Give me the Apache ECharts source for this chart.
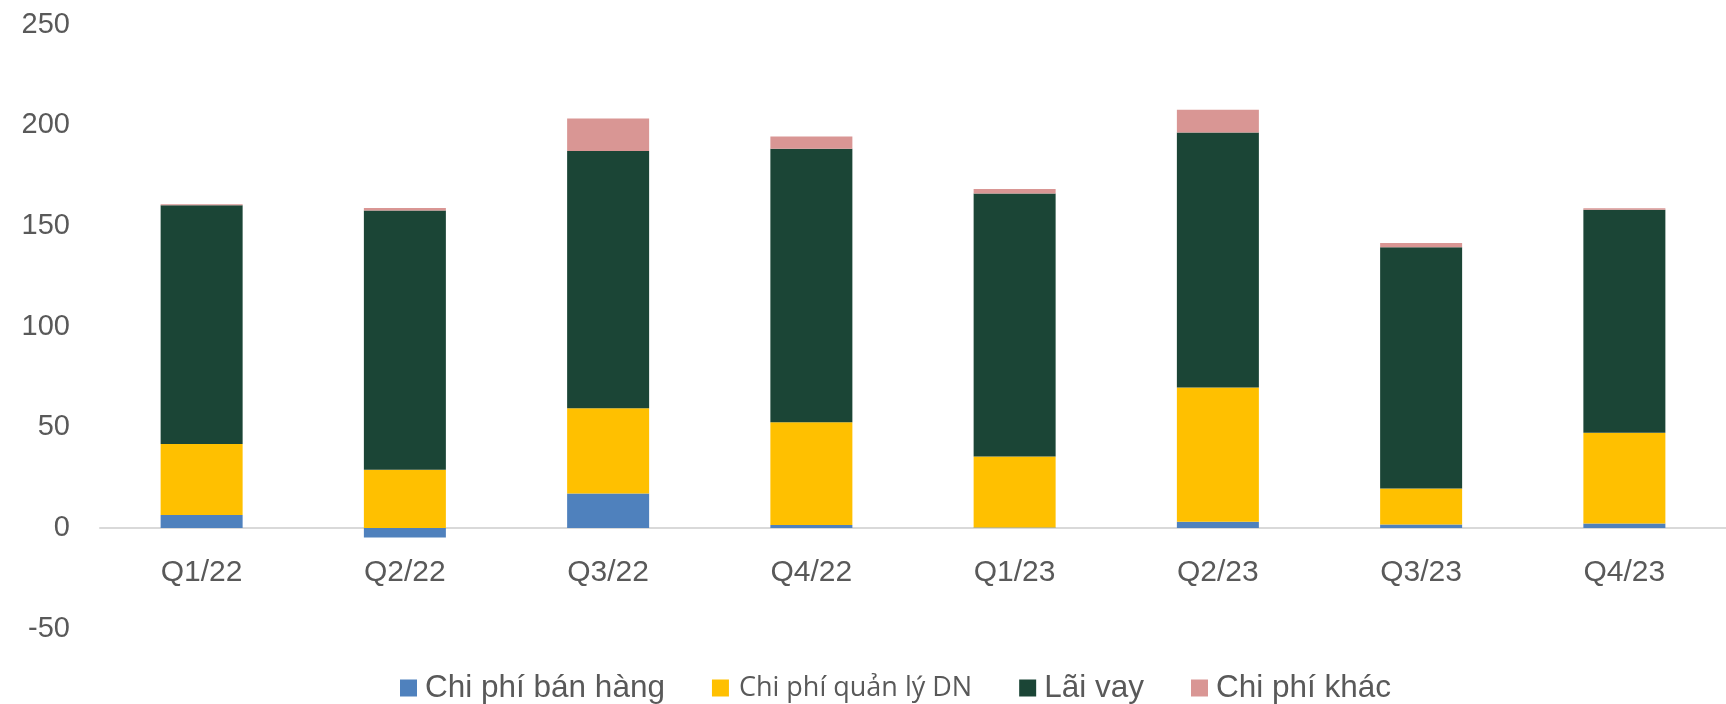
<!DOCTYPE html>
<html>
<head>
<meta charset="utf-8">
<script src="https://cdn.jsdelivr.net/npm/echarts@6/dist/echarts.min.js"></script>
<style>html,body{margin:0;padding:0;background:#fff}#c{width:1726px;height:704px}</style>
</head>
<body>
<div id="c"></div>
<script>
const categories = ['Q1/22','Q2/22','Q3/22','Q4/22','Q1/23','Q2/23','Q3/23','Q4/23'];
const chiPhiBanHang = [6.5, -4.7, 17.2, 1.5, 0.3, 3.1, 1.8, 2.2];
const chiPhiQuanLy = [35.2, 29.0, 42.3, 51.1, 35.2, 66.7, 17.8, 45.1];
const laiVay = [118.6, 128.7, 127.8, 135.8, 130.6, 126.7, 119.8, 110.8];
const chiPhiKhac = [0.5, 1.3, 16.1, 6.1, 2.3, 11.3, 2.2, 0.7];
const seriesNames = ['Chi phí bán hàng','Chi phí quản lý DN','Lãi vay','Chi phí khác'];
const colors = ['#4F81BD','#FFC000','#1B4536','#D99694'];
const FONT = '"Liberation Sans", Arial, sans-serif';
const FONT2 = '"Open Sans", "Noto Sans", sans-serif';

const chart = echarts.init(document.getElementById('c'));
const dataSets = [chiPhiBanHang, chiPhiQuanLy, laiVay, chiPhiKhac];
chart.setOption({
  animation: false,
  color: colors,
  grid: {left: 100, top: 24.7, width: 1645, height: 604, containLabel: false},
  legend: {
    data: seriesNames,
    left: 395,
    top: 667,
    itemWidth: 17,
    itemHeight: 17,
    itemGap: 47,
    icon: 'rect',
    formatter: function (name) {
      return name === 'Chi phí quản lý DN' ? '{s|' + name + '}' : '{n|' + name + '}';
    },
    textStyle: {
      fontFamily: FONT,
      color: '#595959',
      rich: {
        n: {fontSize: 31.5, fontFamily: FONT, color: '#595959', padding: [0, 0, 0, 3]},
        s: {fontSize: 27, fontFamily: FONT2, color: '#595959', padding: [0, 0, 0, 5]}
      }
    }
  },
  xAxis: {
    type: 'category',
    data: categories,
    axisLine: {onZero: true, lineStyle: {color: '#D9D9D9', width: 2}},
    axisTick: {show: false},
    axisLabel: {fontSize: 30, fontFamily: FONT, color: '#595959', margin: -71}
  },
  yAxis: {
    type: 'value',
    min: -50,
    max: 250,
    interval: 50,
    splitLine: {show: false},
    axisLine: {show: false},
    axisTick: {show: false},
    axisLabel: {fontSize: 29, fontFamily: FONT, color: '#595959', margin: 30}
  },
  series: seriesNames.map((n, i) => ({
    name: n,
    type: 'bar',
    stack: 'total',
    barWidth: 82,
    data: dataSets[i],
    itemStyle: {color: colors[i]}
  }))
});
</script>
</body>
</html>
